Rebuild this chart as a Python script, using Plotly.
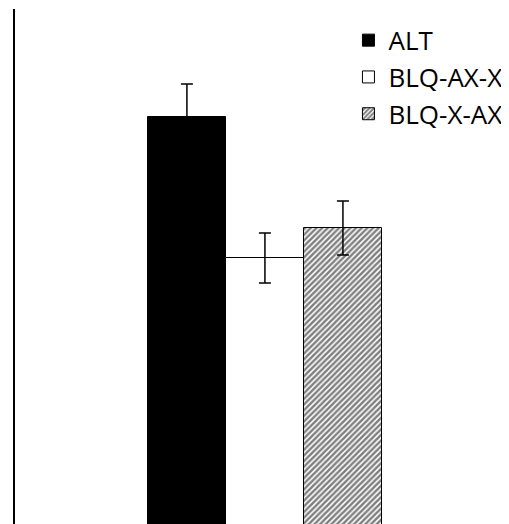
import plotly.graph_objects as go

categories = ["group"]
series_names = ["ALT", "BLQ-AX-X", "BLQ-X-AX"]
values = [58.3, 44.2, 47.2]
errors = [3.3, 2.5, 2.7]

fills = ["black", "white", "white"]
patterns = ["", "", "/"]

fig = go.Figure()
for name, v, e, fc, pat in zip(series_names, values, errors, fills, patterns):
    fig.add_trace(go.Bar(
        x=categories, y=[v], name=name, legendgroup=name,
        marker=dict(color=fc, line=dict(color="black", width=1),
                    pattern=dict(shape=pat, fgcolor="black", bgcolor="white", size=4, solidity=0.62)),
        error_y=dict(type="data", array=[e], color="black", thickness=1.5, width=6, visible=True),
    ))

fig.update_layout(
    width=501, height=516,
    margin=dict(l=7, r=0, t=1, b=0),
    paper_bgcolor="white", plot_bgcolor="white",
    barmode="group", bargap=0, bargroupgap=0,
    font=dict(family="Open Sans, sans-serif", size=26, color="black"),
    legend=dict(x=0.675, y=0.985, xanchor="left", yanchor="top", bgcolor="rgba(0,0,0,0)",
                tracegroupgap=0, itemwidth=30),
    showlegend=True,
)
fig.update_xaxes(range=[-1.068, 1.043], showticklabels=False, showline=False, showgrid=False, zeroline=False, ticks="")
fig.update_yaxes(range=[17.6, 69.1], showticklabels=False, showline=True, linecolor="black", linewidth=2,
                 showgrid=False, zeroline=False, ticks="")

fig.write_html("out.html")
